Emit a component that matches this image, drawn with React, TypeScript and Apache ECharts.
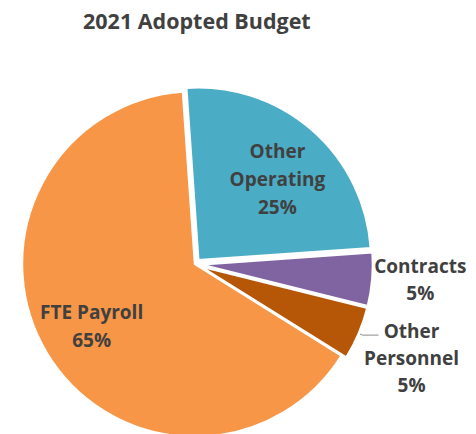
import React, { useEffect, useRef } from 'react';
import * as echarts from 'echarts';

const chartTitle = '2021 Adopted Budget';
const categories = ['Other Operating', 'Contracts', 'Other Personnel', 'FTE Payroll'];
const labelNames = ['Other\nOperating', 'Contracts', 'Other\nPersonnel', 'FTE Payroll'];
const values = [25, 5, 5, 65];
const exploded = [true, true, true, false];
const colors = ['#4BACC6', '#8064A2', '#B65708', '#F79646'];

const FONT = '"Open Sans", sans-serif';
const TEXT = '#404040';
const CENTER = [195, 264];
const R = 173;

export default function App() {
  const ref = useRef<HTMLDivElement>(null);

  useEffect(() => {
    if (!ref.current) return;
    const chart = echarts.init(ref.current, undefined, { renderer: 'svg' });

    const insideRich = {
      t: { fontFamily: FONT, fontWeight: 'bold', fontSize: 19, lineHeight: 28, color: TEXT, align: 'center' },
    };

    const mainData = categories.map((name, i) => {
      const item: any = {
        name,
        value: values[i],
        selected: exploded[i],
        itemStyle: { color: colors[i] },
        label: { show: false },
        labelLine: { show: false },
      };
      if (i === 1) {
        item.label = {
          show: true,
          position: 'outside',
          distanceToLabelLine: 1,
          formatter: (p: any) => `{t|${labelNames[p.dataIndex]}}\n{t|${Math.round(p.percent)}%}`,
          rich: { t: { fontFamily: FONT, fontWeight: 'bold', fontSize: 19, lineHeight: 27, color: TEXT, width: 90, align: 'center' } },
        };
        item.labelLine = { show: false, length: 1, length2: 1 };
      }
      if (i === 2) {
        item.label = {
          show: true,
          position: 'outside',
          distanceToLabelLine: -15,
          padding: [46, 0, 0, 0],
          formatter: (p: any) => labelNames[p.dataIndex].split('\n').map((s) => `{t|${s}}`).join('\n') + `\n{t|${Math.round(p.percent)}%}`,
          rich: { t: { fontFamily: FONT, fontWeight: 'bold', fontSize: 19, lineHeight: 27, color: TEXT, width: 96, align: 'center' } },
        };
        item.labelLine = { show: true, length: 4, length2: 16, lineStyle: { color: '#8C8C8C', width: 1 } };
      }
      return item;
    });

    const labelData = categories.map((name, i) => ({
      name,
      value: values[i],
      selected: exploded[i],
      itemStyle: { color: 'rgba(0,0,0,0)' },
      label: i === 0 ? { show: true, padding: [20, 0, 0, 0] } : { show: i === 3 },
    }));

    chart.setOption({
      animation: false,
      title: {
        text: chartTitle,
        left: 78,
        top: 4,
        textStyle: { fontFamily: FONT, fontWeight: 'bold', fontSize: 21.5, color: TEXT },
      },
      series: [
        {
          type: 'pie',
          center: CENTER,
          radius: R,
          startAngle: 94,
          clockwise: true,
          avoidLabelOverlap: false,
          selectedMode: 'multiple',
          selectedOffset: 5,
          itemStyle: { borderColor: '#FFFFFF', borderWidth: 2.5 },
          emphasis: { disabled: true },
          data: mainData,
        },
        {
          type: 'pie',
          center: CENTER,
          radius: R * 1.36,
          startAngle: 94,
          clockwise: true,
          silent: true,
          avoidLabelOverlap: false,
          selectedMode: 'multiple',
          selectedOffset: 5,
          z: 3,
          label: {
            position: 'inside',
            formatter: (p: any) =>
              labelNames[p.dataIndex].split('\n').map((s) => `{t|${s}}`).join('\n') + `\n{t|${Math.round(p.percent)}%}`,
            rich: insideRich,
          },
          labelLine: { show: false },
          emphasis: { disabled: true },
          data: labelData,
        },
      ],
    });

    return () => chart.dispose();
  }, []);

  return <div ref={ref} style={{ position: 'absolute', left: 0, top: 0, width: 476, height: 434 }} />;
}
